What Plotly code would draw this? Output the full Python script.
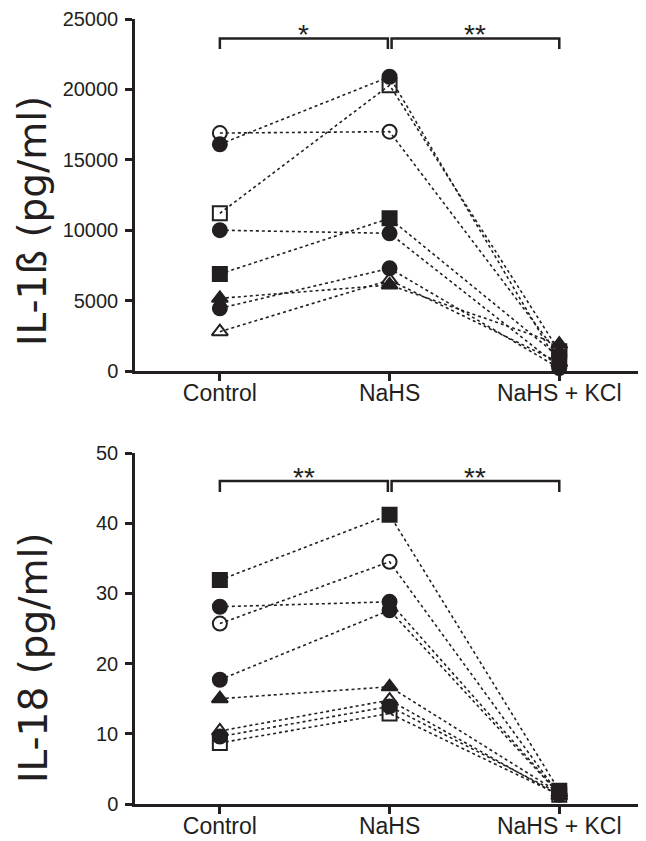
import plotly.graph_objects as go

categories = ["Control", "NaHS", "NaHS + KCl"]
cat_pos = [0, 1, 2]

# IL-1ß (pg/ml), one entry per subject
il1b_control = [16100, 16900, 11200, 10000, 6890, 5160, 4450, 2790]
il1b_nahs = [20900, 17000, 20300, 9780, 10840, 6110, 7290, 6460]
il1b_kcl = [400, 1100, 1400, 300, 1000, 1900, 200, 600]
il1b_symbols = ["circle", "circle-open", "square-open", "circle", "square",
                "triangle-up", "circle", "triangle-up-open"]

# IL-18 (pg/ml), one entry per subject
il18_control = [31.9, 28.1, 25.7, 17.7, 15.0, 10.4, 9.6, 8.7]
il18_nahs = [41.2, 28.8, 34.5, 27.6, 16.7, 14.8, 13.9, 12.9]
il18_kcl = [1.9, 1.5, 1.3, 1.4, 1.6, 1.2, 1.5, 1.3]
il18_symbols = ["square", "circle", "circle-open", "circle", "triangle-up",
                "triangle-up-open", "circle", "square-open"]

il1b_ticks = [0, 5000, 10000, 15000, 20000, 25000]
il18_ticks = [0, 10, 20, 30, 40, 50]

sig_top = ["*", "**"]
sig_bottom = ["**", "**"]

INK = "#231f20"
OFF = 8                      # page body margin
W, H = 646 - OFF, 841 - OFF  # figure size so it fits the window


def fy(py):
    return py - OFF


def fx(px):
    return px - OFF


fig = go.Figure()


def add_panel(ctrl, nahs, kcl, symbols, xa, ya):
    for c, n, k, s in zip(ctrl, nahs, kcl, symbols):
        fig.add_trace(go.Scatter(
            x=cat_pos, y=[c, n, k], mode="lines+markers",
            xaxis=xa, yaxis=ya, cliponaxis=False, showlegend=False,
            line=dict(color=INK, width=1.6, dash="dot"),
            marker=dict(symbol=s, size=14, color=INK,
                        line=dict(color=INK, width=2)),
        ))


add_panel(il1b_control, il1b_nahs, il1b_kcl, il1b_symbols, "x", "y")
add_panel(il18_control, il18_nahs, il18_kcl, il18_symbols, "x2", "y2")


def px_y(py, y0px, y1px, vmax):
    return (y0px - py) / (y0px - y1px) * vmax


def add_brackets(labels, xr, yr, y0px, y1px, vmax, bar_px, tick_px, star_px):
    yb = px_y(bar_px, y0px, y1px, vmax)
    yt = px_y(tick_px, y0px, y1px, vmax)
    ys = px_y(star_px, y0px, y1px, vmax)
    spans = [(0, 0.99), (1.012, 2)]
    for (a, b), lab in zip(spans, labels):
        fig.add_shape(type="path", xref=xr, yref=yr,
                      path=f"M {a},{yt} L {a},{yb} L {b},{yb} L {b},{yt}",
                      line=dict(color=INK, width=2.5))
        fig.add_annotation(x=(a + b) / 2, y=ys, xref=xr, yref=yr, text=lab,
                           showarrow=False, yanchor="middle",
                           font=dict(family="Liberation Sans", size=28, color=INK))


add_brackets(sig_top, "x", "y", 371, 19, 25000, 38.5, 49, 35)
add_brackets(sig_bottom, "x2", "y2", 804, 453, 50, 481, 492, 477)

# y titles
fig.add_annotation(x=fx(33) / W, y=(H - fy(221)) / H, xref="paper", yref="paper",
                   text="IL-1ß (pg/ml)", textangle=-90, showarrow=False,
                   xanchor="center", yanchor="middle",
                   font=dict(family="DejaVu Sans", size=39, color=INK))
fig.add_annotation(x=fx(33) / W, y=(H - fy(658)) / H, xref="paper", yref="paper",
                   text="IL-18 (pg/ml)", textangle=-90, showarrow=False,
                   xanchor="center", yanchor="middle",
                   font=dict(family="DejaVu Sans", size=39, color=INK))

xcommon = dict(range=[-0.5, 2.511], tickvals=cat_pos, ticktext=categories,
               showline=True, linewidth=2.5, linecolor=INK, ticks="outside",
               ticklen=7, tickwidth=2.5, tickcolor=INK, showgrid=False,
               zeroline=False, domain=[fx(135) / W, 1.0], ticklabelstandoff=-7,
               automargin=False,
               tickfont=dict(family="Liberation Sans", size=23, color=INK))
ycommon = dict(showline=True, linewidth=2.5, linecolor=INK, ticks="outside",
               ticklen=7, tickwidth=2.5, tickcolor=INK, showgrid=False,
               zeroline=False, ticklabelstandoff=3, automargin=False,
               tickfont=dict(family="Liberation Sans", size=20, color=INK))

fig.update_layout(
    width=W, height=H, margin=dict(l=0, r=0, t=0, b=0, autoexpand=False),
    plot_bgcolor="white", paper_bgcolor="white",
    xaxis=dict(anchor="y", **xcommon),
    xaxis2=dict(anchor="y2", **xcommon),
    yaxis=dict(anchor="x", range=[0, 25000], tickvals=il1b_ticks,
               ticktext=[str(v) for v in il1b_ticks],
               domain=[(H - fy(371)) / H, (H - fy(19)) / H], **ycommon),
    yaxis2=dict(anchor="x2", range=[0, 50], tickvals=il18_ticks,
                ticktext=[str(v) for v in il18_ticks],
                domain=[(H - fy(804)) / H, (H - fy(453)) / H], **ycommon),
)

fig.write_html("out.html")
